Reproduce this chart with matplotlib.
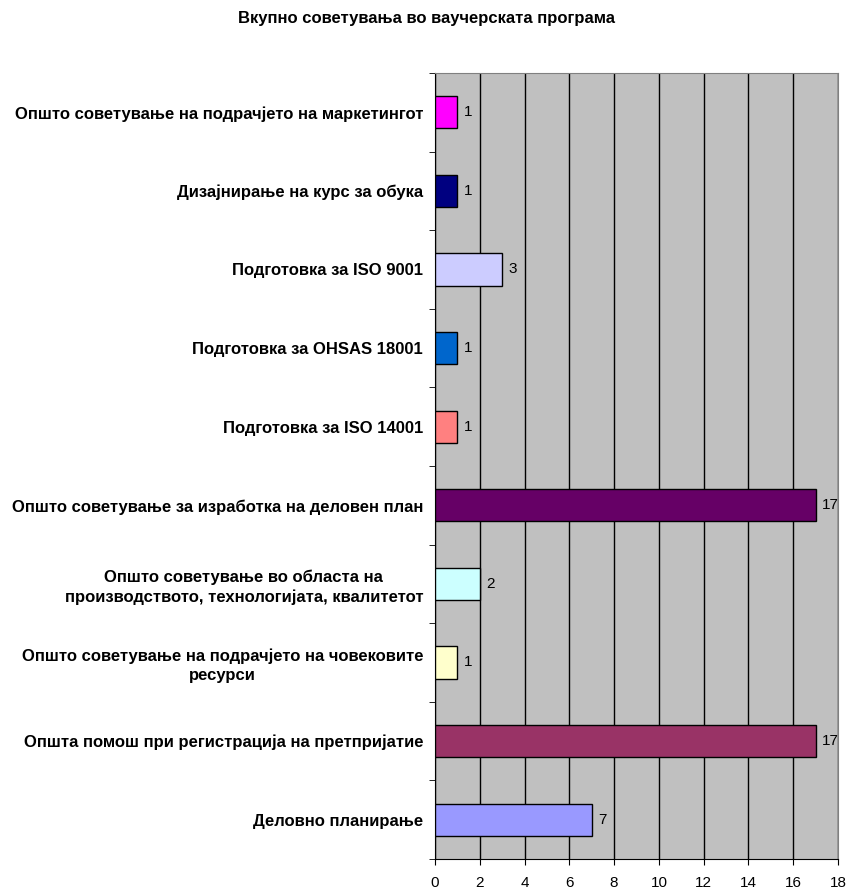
import matplotlib
matplotlib.use("Agg")
import matplotlib.pyplot as plt
import numpy as np

plt.rcParams['font.family'] = ['Liberation Sans', 'DejaVu Sans']

# categories listed bottom to top
categories = [
    "Деловно планирање",
    "Општа помош при регистрација на претпријатие",
    "Општо советување на подрачјето на човековите\nресурси",
    "Општо советување во областа на\nпроизводството, технологијата, квалитетот",
    "Општо советување за изработка на деловен план",
    "Подготовка за ISO 14001",
    "Подготовка за OHSAS 18001",
    "Подготовка за ISO 9001",
    "Дизајнирање на курс за обука",
    "Општо советување на подрачјето на маркетингот",
]
values = [7, 17, 1, 2, 17, 1, 1, 3, 1, 1]
colors = ["#9999FF", "#993366", "#FFFFCC", "#CCFFFF", "#660066",
          "#FF8080", "#0066CC", "#CCCCFF", "#000080", "#FF00FF"]

fig = plt.figure(figsize=(8.48, 8.88), dpi=100)
ax = fig.add_axes([435/848, 1 - 859/888, (838 - 435)/848, (859 - 73)/888])
ax.set_facecolor("#C0C0C0")

y = np.arange(len(categories))
ax.barh(y, values, height=0.41, color=colors, edgecolor="black", linewidth=1, zorder=3)
for yi, v in zip(y, values):
    ax.text(v + 0.27, yi, str(v), va="center", ha="left", fontsize=11, zorder=4)

ax.set_xlim(0, 18)
ax.set_ylim(-0.5, len(categories) - 0.5)
ax.set_xticks(np.arange(0, 19, 2))
ax.tick_params(axis="x", length=4, direction="out", labelsize=11, pad=8)
ax.xaxis.grid(True, color="black", linewidth=1, zorder=1)

ax.set_yticks(y)
ax.set_yticklabels(categories, fontweight="bold", fontsize=12,
                   multialignment="center", linespacing=1.3)
ax.tick_params(axis="y", which="major", length=0, pad=8.5)
ax.set_yticks(np.arange(-0.5, len(categories)), minor=True)
ax.tick_params(axis="y", which="minor", length=4, direction="out")

for s in ["top", "right"]:
    ax.spines[s].set_color("#808080")
for s in ["left", "bottom"]:
    ax.spines[s].set_color("black")

fig.text(426/848, 1 - 19/888, "Вкупно советувања во ваучерската програма",
         ha="center", va="center", fontsize=12, fontweight="bold")

fig.savefig("out.png", dpi=100)
